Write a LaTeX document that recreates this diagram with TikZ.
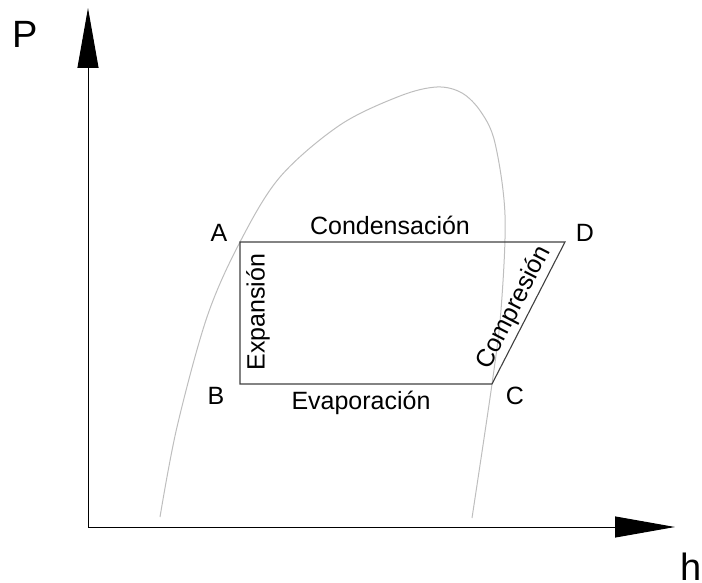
\documentclass[tikz,border=0pt]{standalone}
\usepackage{fontspec}
\setmainfont{Liberation Sans}
\usetikzlibrary{arrows.meta}
\definecolor{phgray}{HTML}{BEBEBE}
\definecolor{phdark}{HTML}{404040}

\begin{document}
\begin{tikzpicture}[x=0.5pt, y=-0.5pt,
  eje/.style={-{Triangle[length=30pt, width=10.5pt]}, line width=0.5pt, black},
  ciclo/.style={line width=0.55pt, phdark},
  campana/.style={line width=0.5pt, phgray},
  punto/.style={font=\fontsize{12.5}{14}\selectfont, inner sep=0pt},
  proceso/.style={font=\fontsize{12.5}{14}\selectfont, inner sep=0pt},
  ejetxt/.style={font=\fontsize{19}{22}\selectfont, inner sep=0pt}]
\useasboundingbox (0,0) rectangle (702,583);
% ejes
\coordinate (O) at (88,527);
\coordinate (ytip) at (88,8);
\coordinate (xtip) at (675,527);
\draw[eje] (O) -- (ytip);
\draw[eje] (O) -- (xtip);
\node[ejetxt] (P) at (25,34) {P};
\node[ejetxt] (h) at (691,567) {h};
% campana de saturacion
\draw[campana] plot[smooth, tension=0.55] coordinates {(160,517) (177,427) (207,317)
  (240,242) (280,177) (340,125) (400,96) (437,87) (462,93) (481,112) (495,143)
  (505,215) (501,310) (492,384) (472,518)};
% ciclo
\coordinate (A) at (240,242);
\coordinate (B) at (240,384);
\coordinate (C) at (492,384);
\coordinate (D) at (565,242);
\draw[ciclo] (A) -- (D) -- (C) -- (B) -- cycle;
\node[punto] (lA) at (219,233) {A};
\node[punto] (lB) at (216,396) {B};
\node[punto] (lC) at (515,396) {C};
\node[punto] (lD) at (585,233) {D};
\node[proceso] (cond) at (390,225) {Condensación};
\node[proceso] (evap) at (361,403) {Evaporación};
\node[proceso, rotate=90] (expa) at (258,312) {Expansión};
\node[proceso, rotate=62.8] (comp) at (514,308) {Compresión};
\end{tikzpicture}
\end{document}
